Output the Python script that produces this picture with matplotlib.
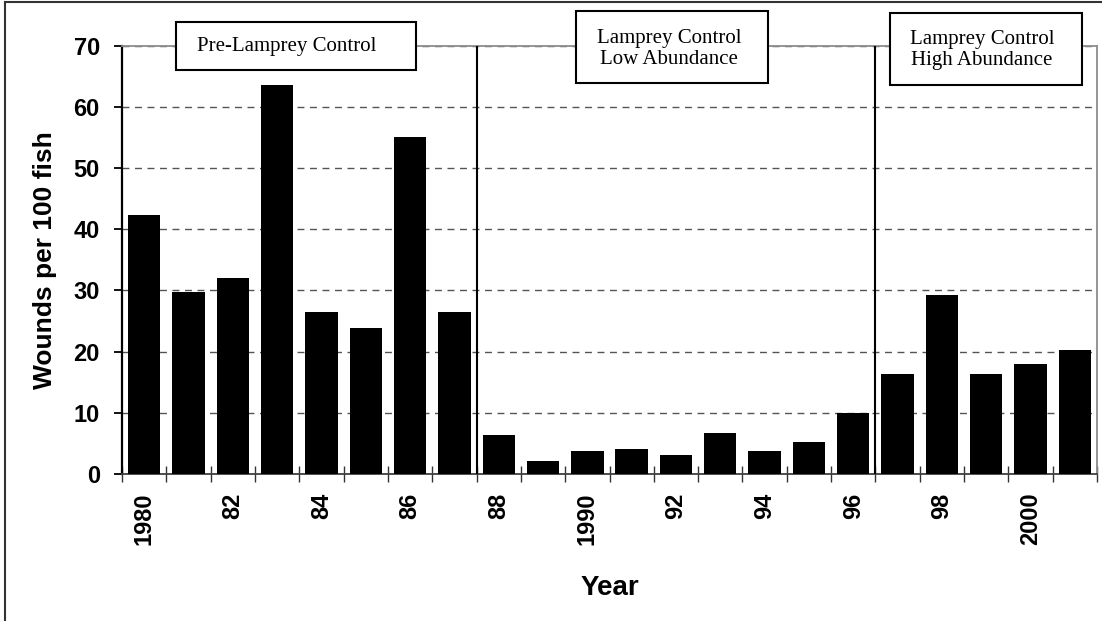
import numpy as np
import matplotlib
matplotlib.use('Agg')
import matplotlib.pyplot as plt
from matplotlib.patches import Rectangle
from matplotlib.lines import Line2D

# wounds per 100 fish, 1980-2001
years = list(range(1980, 2002))
wounds = [42.3, 29.8, 32.1, 63.6, 26.5, 23.9, 55.1, 26.5,
          6.4, 2.2, 3.8, 4.1, 3.1, 6.7, 3.8, 5.3, 9.9,
          16.4, 29.2, 16.4, 18.0, 20.3]
tick_labels = ['1980', '82', '84', '86', '88', '1990', '92', '94', '96', '98', '2000']
period_breaks = [1987.5, 1996.5]
period_names = ['Pre-Lamprey Control',
                'Lamprey Control\nLow Abundance',
                'Lamprey Control\nHigh Abundance']

sans = 'Liberation Sans'
serif = 'Liberation Serif'

fig = plt.figure(figsize=(11.02, 6.21), dpi=100)
ax = fig.add_axes([0.1107, 0.2367, 0.8848, 0.6900])

x = np.arange(len(years))
ax.bar(x, wounds, width=0.73, color='black', zorder=3)

ax.set_xlim(-0.5, len(years) - 0.5)
ax.set_ylim(0, 70)

# y axis
ax.set_yticks(range(0, 71, 10))
ax.yaxis.grid(True, linestyle=(0, (5, 4)), color='#555555', linewidth=1.0)
ax.set_axisbelow(True)
ax.tick_params(axis='y', direction='out', length=6, width=1.3, pad=10,
               labelsize=17, color='black')
for lab in ax.get_yticklabels():
    lab.set_fontfamily(sans)
    lab.set_fontweight('bold')

# x axis: ticks on the boundaries, labels on every other bar
ax.set_xticks(np.arange(-0.5, len(years), 1.0))
ax.set_xticklabels([])
ax.tick_params(axis='x', which='major', direction='inout', length=12, width=1.0,
               color='#333333')
lab_pos = [years.index(1980 + 2 * i) for i in range(len(tick_labels))]
ax.set_xticks(lab_pos, minor=True)
ax.set_xticklabels(tick_labels, minor=True, rotation=90, fontsize=17,
                   fontweight='bold', fontfamily=sans, va='top', ha='center')
ax.tick_params(axis='x', which='minor', length=0, pad=13.5)

ax.spines['left'].set_color('black')
ax.spines['left'].set_linewidth(1.6)
ax.spines['bottom'].set_color('#404040')
ax.spines['bottom'].set_linewidth(1.3)
for s in ['top', 'right']:
    ax.spines[s].set_color('#8c8c8c')
    ax.spines[s].set_linewidth(1.3)

# period separators
for b in period_breaks:
    ax.axvline(years.index(int(b + 0.5)) - 0.5, color='black', linewidth=1.5, zorder=4)

ax.set_ylabel('Wounds per 100 fish', fontsize=19, fontweight='bold',
              fontfamily=sans, labelpad=12)
ax.set_xlabel('Year', fontsize=20, fontweight='bold', fontfamily=sans, labelpad=21)

# period boxes (figure coords)
boxes = [(0.1594, 0.8868, 0.2180, 0.0773, 0.260, 0.9248),
         (0.5227, 0.8668, 0.1742, 0.1155, 0.607, 0.9213),
         (0.8076, 0.8631, 0.1742, 0.1164, 0.891, 0.9195)]
for (bx, by, bw, bh, tx, ty), name in zip(boxes, period_names):
    fig.patches.append(Rectangle((bx, by), bw, bh, transform=fig.transFigure,
                                 facecolor='white', edgecolor='black',
                                 linewidth=1.5, zorder=5))
    fig.text(tx, ty, name, ha='center', va='center', fontsize=15,
             fontfamily=serif, linespacing=1.15, zorder=6)

# outer frame (top and left edges visible)
fig.lines.append(Line2D([0.0045, 1.0], [0.9975, 0.9975], transform=fig.transFigure,
                        color='#333333', linewidth=1.5))
fig.lines.append(Line2D([0.0045, 0.0045], [0.0, 0.9975], transform=fig.transFigure,
                        color='#333333', linewidth=1.5))

fig.savefig('out.png', dpi=100)
